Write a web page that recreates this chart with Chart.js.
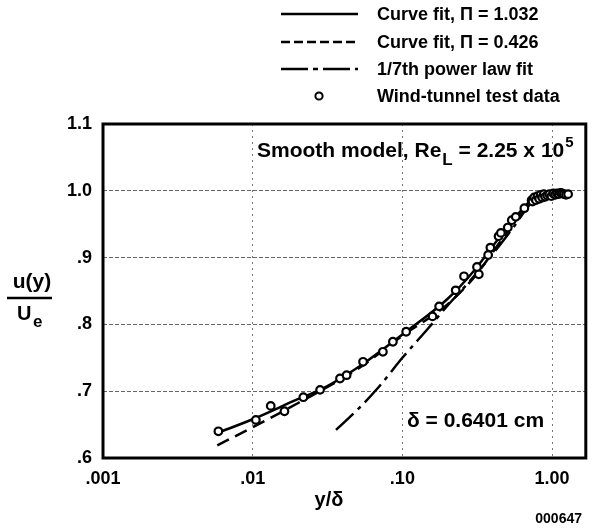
<!DOCTYPE html>
<html>
<head>
<meta charset="utf-8">
<script src="https://cdn.jsdelivr.net/npm/chart.js@4.4.1/dist/chart.umd.min.js"></script>
<style>
  html, body { margin: 0; padding: 0; background: #fff; }
  #wrap { width: 592px; height: 531px; position: relative; }
</style>
</head>
<body>
<div id="wrap"><canvas id="profileChart" width="592" height="531"></canvas></div>
<script>
// wind-tunnel test data, y/delta and u(y)/Ue
const testX = [0.0059, 0.0105, 0.0132, 0.0163, 0.0218, 0.0282, 0.0383, 0.0424, 0.0546, 0.0741,
    0.0864, 0.106, 0.159, 0.176, 0.227, 0.258, 0.324, 0.315, 0.374, 0.387,
    0.439, 0.455, 0.506, 0.538, 0.572, 0.653, 0.730, 0.74, 0.76, 0.78,
    0.80, 0.82, 0.84, 0.86, 0.88, 0.90, 0.93, 0.96, 0.99, 1.02,
    1.05, 1.08, 1.11, 1.14, 1.17, 1.20, 1.24, 1.28];
const testY = [0.640, 0.657, 0.678, 0.670, 0.691, 0.702, 0.719, 0.724, 0.744, 0.759,
    0.774, 0.789, 0.812, 0.827, 0.851, 0.872, 0.875, 0.886, 0.904, 0.915,
    0.932, 0.937, 0.945, 0.956, 0.961, 0.974, 0.986, 0.984, 0.990, 0.986,
    0.992, 0.988, 0.994, 0.990, 0.995, 0.991, 0.993, 0.995, 0.992, 0.996,
    0.994, 0.996, 0.995, 0.997, 0.996, 0.995, 0.994, 0.995];

// curve fit, Pi = 1.032
const fit1X = [0.0059, 0.01, 0.02, 0.03, 0.05, 0.1, 0.2, 0.3, 0.5, 0.7, 0.8, 1.0];
const fit1Y = [0.638, 0.658, 0.688, 0.705, 0.735, 0.785, 0.838, 0.880, 0.945, 0.983, 0.993, 0.995];

// curve fit, Pi = 0.426
const fit2X = [0.0058, 0.01, 0.02, 0.05, 0.1, 0.2, 0.3, 0.5, 0.7, 0.8, 1.0];
const fit2Y = [0.619, 0.646, 0.682, 0.733, 0.783, 0.830, 0.870, 0.938, 0.982, 0.993, 0.995];

// 1/7th power law fit
const powX = [0.036, 0.05, 0.07, 0.1, 0.15, 0.2, 0.28, 0.4, 0.55, 0.75, 1.0];
const powY = [0.642, 0.672, 0.707, 0.750, 0.795, 0.828, 0.864, 0.905, 0.945, 0.985, 0.995];

const xTickValues = [0.001, 0.01, 0.1, 1];
const xTickLabels = [".001", ".01", ".10", "1.00"];
const yTickValues = [0.6, 0.7, 0.8, 0.9, 1.0, 1.1];
const yTickLabels = [".6", ".7", ".8", ".9", "1.0", "1.1"];

const legendLabels = ["Curve fit, \u03A0 = 1.032", "Curve fit, \u03A0 = 0.426", "1/7th power law fit", "Wind-tunnel test data"];

function pts(xs, ys) {
    return xs.map(function (x, i) { return { x: x, y: ys[i] }; });
}

const FONT = "'Liberation Sans', Arial, sans-serif";

const lineStyles = [
    { dash: [], legendDash: [] },
    { dash: [13, 7], legendDash: [9, 4] },
    { dash: [24, 6, 4, 6], legendDash: [27, 5, 5, 5] }
];

const decorPlugin = {
    id: "decor",
    afterDraw: function (chart) {
        const ctx = chart.ctx;
        const a = chart.chartArea;
        ctx.save();

        // frame
        ctx.strokeStyle = "#000";
        ctx.lineWidth = 3;
        ctx.strokeRect(a.left, a.top, a.right - a.left, a.bottom - a.top);

        // legend
        const rows = [14, 42, 69, 96];
        ctx.fillStyle = "#000";
        ctx.textBaseline = "middle";
        ctx.textAlign = "left";
        ctx.font = "bold 18px " + FONT;
        for (let i = 0; i < 4; i++) {
            const yy = rows[i];
            if (i < 3) {
                ctx.beginPath();
                ctx.setLineDash(lineStyles[i].legendDash);
                ctx.lineWidth = 2.5;
                ctx.moveTo(281, yy);
                ctx.lineTo(358, yy);
                ctx.stroke();
                ctx.setLineDash([]);
            } else {
                ctx.beginPath();
                ctx.lineWidth = 2;
                ctx.fillStyle = "#fff";
                ctx.arc(319, yy, 3.6, 0, Math.PI * 2);
                ctx.fill();
                ctx.stroke();
                ctx.fillStyle = "#000";
            }
            ctx.fillText(legendLabels[i], 377, yy + 1);
        }

        // annotation: Smooth model, Re_L = 2.25 x 10^5
        ctx.textBaseline = "alphabetic";
        ctx.font = "bold 21px " + FONT;
        let x = 257;
        const by = 157;
        let s = "Smooth model, Re";
        ctx.fillText(s, x, by);
        x += ctx.measureText(s).width;
        ctx.font = "bold 17px " + FONT;
        ctx.fillText("L", x + 1, by + 8);
        x += ctx.measureText("L").width + 1;
        ctx.font = "bold 21px " + FONT;
        s = " = 2.25 x 10";
        ctx.fillText(s, x, by);
        x += ctx.measureText(s).width;
        ctx.font = "bold 15px " + FONT;
        ctx.fillText("5", x + 1, by - 10);

        // delta annotation
        ctx.font = "bold 21px " + FONT;
        ctx.fillText("\u03B4 = 0.6401 cm", 407, 427);

        // x axis title
        ctx.textAlign = "center";
        ctx.font = "bold 20px " + FONT;
        ctx.fillText("y/\u03B4", 329, 506);

        // figure number
        ctx.textAlign = "right";
        ctx.font = "bold 14px " + FONT;
        ctx.fillText("000647", 582, 523);

        // y axis title as fraction
        ctx.textAlign = "center";
        ctx.font = "bold 21px " + FONT;
        ctx.fillText("u(y)", 32, 288);
        ctx.lineWidth = 2.5;
        ctx.beginPath();
        ctx.moveTo(7, 298);
        ctx.lineTo(52, 298);
        ctx.stroke();
        ctx.textAlign = "left";
        ctx.font = "bold 20px " + FONT;
        ctx.fillText("U", 17, 320);
        ctx.font = "bold 17px " + FONT;
        ctx.fillText("e", 33, 327);

        ctx.restore();
    }
};

new Chart(document.getElementById("profileChart").getContext("2d"), {
    type: "scatter",
    data: {
        datasets: [
            {
                label: legendLabels[3],
                data: pts(testX, testY),
                showLine: false,
                pointRadius: 3.8,
                pointBorderWidth: 2.2,
                pointBackgroundColor: "#ffffff",
                pointBorderColor: "#000000",
                order: 0
            },
            {
                label: legendLabels[0],
                data: pts(fit1X, fit1Y),
                showLine: true,
                pointRadius: 0,
                borderColor: "#000",
                borderWidth: 2.5,
                cubicInterpolationMode: "monotone",
                order: 1
            },
            {
                label: legendLabels[1],
                data: pts(fit2X, fit2Y),
                showLine: true,
                pointRadius: 0,
                borderColor: "#000",
                borderWidth: 2.5,
                borderDash: lineStyles[1].dash,
                cubicInterpolationMode: "monotone",
                order: 2
            },
            {
                label: legendLabels[2],
                data: pts(powX, powY),
                showLine: true,
                pointRadius: 0,
                borderColor: "#000",
                borderWidth: 2.5,
                borderDash: lineStyles[2].dash,
                cubicInterpolationMode: "monotone",
                order: 3
            }
        ]
    },
    options: {
        responsive: false,
        animation: false,
        layout: { padding: { left: 0, top: 124, right: 4, bottom: 0 } },
        plugins: {
            legend: { display: false },
            tooltip: { enabled: false }
        },
        scales: {
            x: {
                type: "logarithmic",
                min: 0.001,
                max: 1.68,
                afterBuildTicks: function (scale) {
                    scale.ticks = xTickValues.map(function (v) { return { value: v }; });
                },
                afterFit: function (scale) { scale.height = 73; },
                ticks: {
                    color: "#000",
                    padding: 10,
                    font: { family: FONT, size: 18, weight: "bold" },
                    callback: function (v) {
                        const i = xTickValues.indexOf(v);
                        return i >= 0 ? xTickLabels[i] : "";
                    }
                },
                grid: {
                    color: "#777",
                    lineWidth: function (c) { return c.index === 0 ? 0 : 1; },
                    drawTicks: false
                },
                border: { display: false, dash: [2, 4] }
            },
            y: {
                type: "linear",
                min: 0.6,
                max: 1.1,
                afterBuildTicks: function (scale) {
                    scale.ticks = yTickValues.map(function (v) { return { value: v }; });
                },
                afterFit: function (scale) { scale.width = 103; },
                ticks: {
                    color: "#000",
                    padding: 11,
                    font: { family: FONT, size: 18, weight: "bold" },
                    callback: function (v) {
                        const i = yTickValues.findIndex(function (t) { return Math.abs(t - v) < 1e-6; });
                        return i >= 0 ? yTickLabels[i] : "";
                    }
                },
                grid: {
                    color: "#666",
                    lineWidth: function (c) {
                        return (c.index === 0 || c.index === yTickValues.length - 1) ? 0 : 1;
                    },
                    drawTicks: false
                },
                border: { display: false, dash: [4, 2] }
            }
        }
    },
    plugins: [decorPlugin]
});
</script>
</body>
</html>
